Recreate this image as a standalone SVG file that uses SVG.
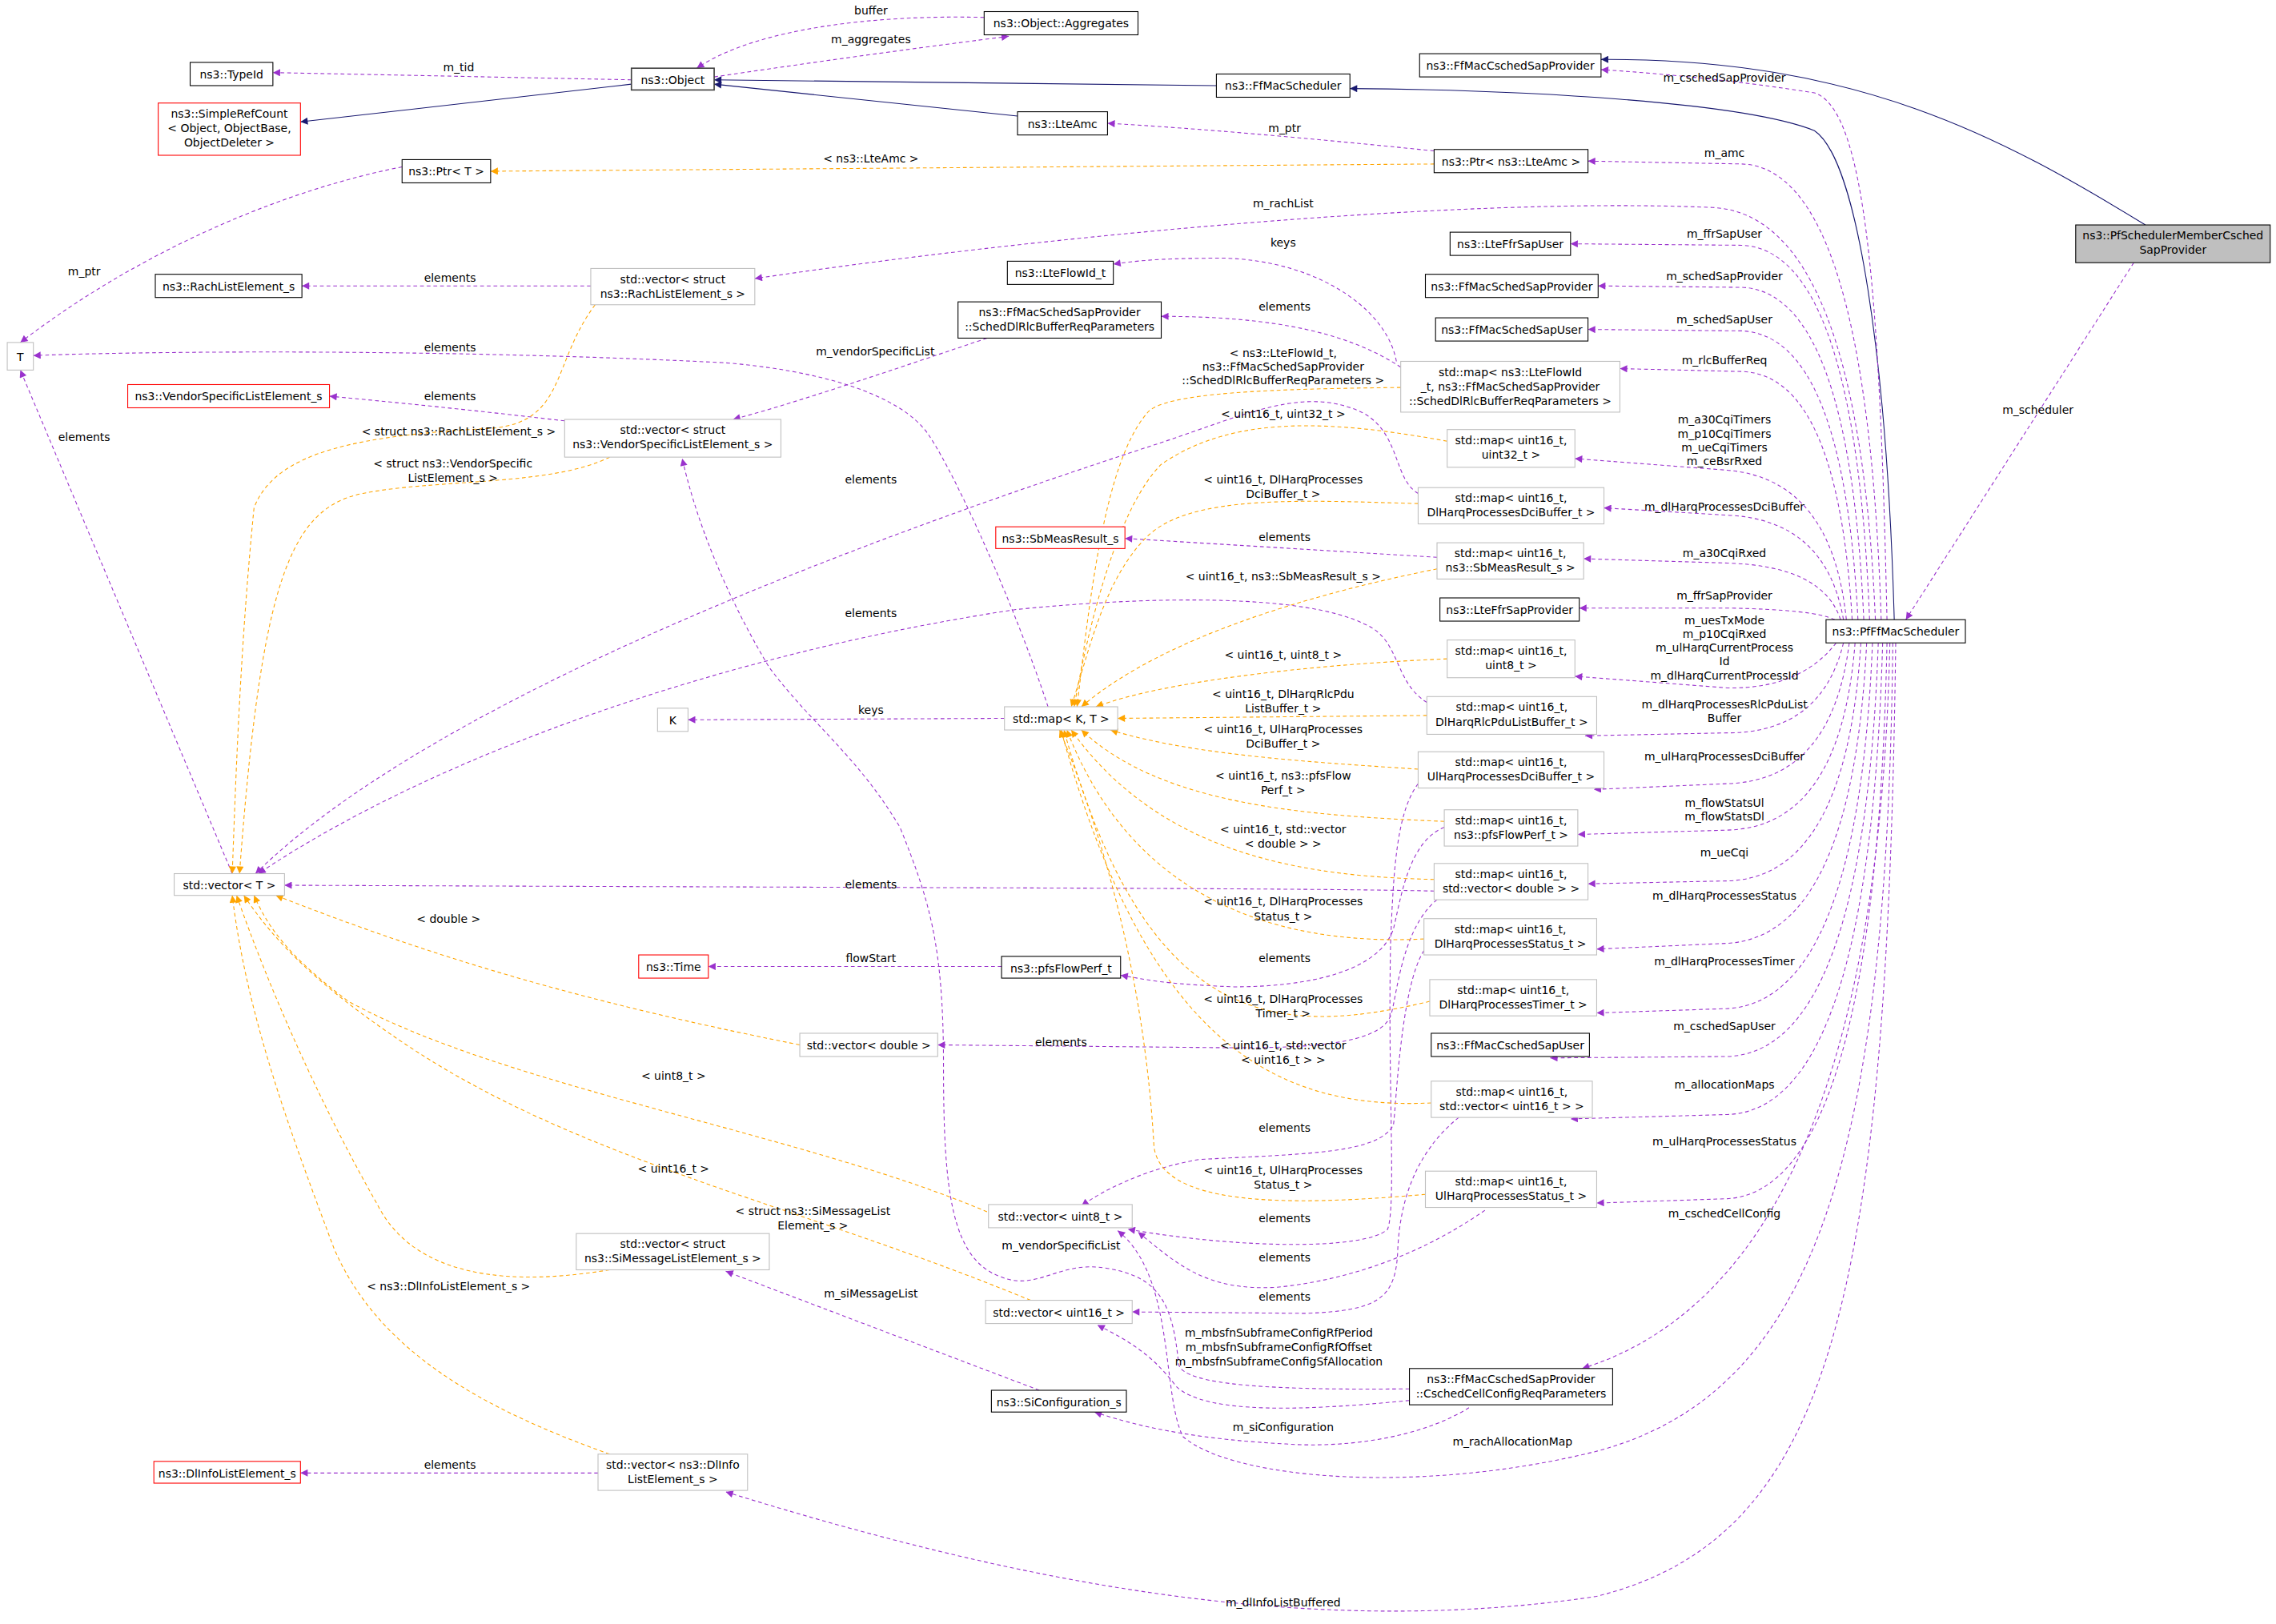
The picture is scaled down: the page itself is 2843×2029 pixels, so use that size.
<svg xmlns="http://www.w3.org/2000/svg" width="2843" height="2029" viewBox="0 0 2843 2029">
<defs>
<style>
text{font-family:"DejaVu Sans","Liberation Sans",sans-serif;font-size:7.7px;fill:#000;text-anchor:middle}
.nd rect{fill:#fff;stroke:#000;stroke-width:.6}
.nd.g rect{stroke:#bfbfbf}
.nd.r rect{stroke:#ff0000}
.nd.f rect{fill:#bfbfbf;stroke:#000}
#edges path{fill:none;stroke-width:.6}
#edges .p{stroke:#9a32cd;stroke-dasharray:2.6,2;marker-end:url(#ap)}
#edges .o{stroke:#ffa500;stroke-dasharray:2.6,2;marker-end:url(#ao)}
#edges .b{stroke:#191970;marker-end:url(#ab)}
</style>
<marker id="ap" viewBox="0 0 10 10" refX="10" refY="5" markerWidth="7" markerHeight="5" markerUnits="userSpaceOnUse" orient="auto"><path d="M0,0L10,5L0,10z" fill="#9a32cd"/></marker>
<marker id="ao" viewBox="0 0 10 10" refX="10" refY="5" markerWidth="7" markerHeight="5" markerUnits="userSpaceOnUse" orient="auto"><path d="M0,0L10,5L0,10z" fill="#ffa500"/></marker>
<marker id="ab" viewBox="0 0 10 10" refX="10" refY="5" markerWidth="7" markerHeight="5" markerUnits="userSpaceOnUse" orient="auto"><path d="M0,0L10,5L0,10z" fill="#191970"/></marker>
</defs>
<rect width="2843" height="2029" fill="#fff"/>
<g transform="scale(1.81314)">
<g id="edges">
<!-- inheritance -->
<path class="b" d="M435,58 L207,84"/>
<path class="b" d="M838,59 L492,55"/>
<path class="b" d="M701,80 L492,58"/>
<path class="b" d="M1305,427 C1300,250 1280,110 1250,90 C1200,70 1050,62 930,61"/>
<path class="b" d="M1478,155 C1380,95 1280,40 1103,41"/>
<!-- PfFfMacScheduler members -->
<path class="p" d="M1470,181 L1313,427"/>
<path class="p" d="M1300,427 C1295,200 1285,75 1250,64 C1200,56 1150,51 1103,48"/>
<path class="p" d="M1296,427 Q1286,116 1200,113 L1094,111"/>
<path class="p" d="M1292,427 Q1280,148 1180,143 C1000,135 700,165 520,192"/>
<path class="p" d="M1288,427 Q1278,172 1200,169 L1082,168"/>
<path class="p" d="M1284,427 Q1274,201 1200,198 L1101,197"/>
<path class="p" d="M1280,427 Q1270,231 1200,228 L1094,227"/>
<path class="p" d="M1276,427 Q1266,258 1200,256 L1116,254"/>
<path class="p" d="M1272,427 Q1262,330 1190,324 L1085,316"/>
<path class="p" d="M1270,427 Q1258,358 1190,355 L1105,350"/>
<path class="p" d="M1268,427 Q1256,390 1190,388 L1091,385"/>
<path class="p" d="M1264,427 Q1250,420 1190,419 L1088,419"/>
<path class="p" d="M1265,443 Q1240,475 1190,474 L1085,466"/>
<path class="p" d="M1270,443 Q1255,505 1190,505 L1092,507"/>
<path class="p" d="M1274,443 Q1262,538 1190,540 L1098,544"/>
<path class="p" d="M1278,443 Q1268,570 1190,572 L1087,575"/>
<path class="p" d="M1282,443 Q1272,605 1190,607 L1094,609"/>
<path class="p" d="M1286,443 Q1276,645 1190,650 L1100,654"/>
<path class="p" d="M1290,443 Q1280,690 1190,695 L1100,698"/>
<path class="p" d="M1294,443 Q1284,725 1190,728 L1068,729"/>
<path class="p" d="M1297,443 Q1288,765 1190,768 L1082,771"/>
<path class="p" d="M1300,443 Q1292,820 1190,826 L1100,829"/>
<path class="p" d="M1302,443 Q1292,880 1090,943"/>
<path class="p" d="M1304,443 C1300,800 1250,960 1100,1000 C980,1030 850,1020 815,990 C800,960 810,880 770,848"/>
<path class="p" d="M1306,443 C1300,900 1260,1060 1100,1100 C900,1130 700,1090 500,1028"/>
<!-- other members -->
<path class="p" d="M435,55 L188,50"/>
<path class="p" d="M678,12 C600,10 520,20 480,47"/>
<path class="p" d="M492,53 C580,40 640,32 695,25"/>
<path class="p" d="M988,104 C900,95 820,88 763,85"/>
<path class="p" d="M277,115 C200,130 100,170 14,236"/>
<path class="p" d="M407,197 L208,197"/>
<path class="p" d="M722,487 C700,420 660,330 640,300 C620,270 560,255 500,250 C300,240 100,242 23,245"/>
<path class="p" d="M160,602 L14,255"/>
<path class="p" d="M389,290 C320,282 280,278 227,273"/>
<path class="p" d="M680,233 C600,260 540,280 505,289"/>
<path class="p" d="M971,957 C880,958 815,955 812,940 C808,900 800,880 763,874 C730,868 715,890 690,880 C655,868 650,820 650,734 C650,650 640,620 620,570 C590,520 560,500 530,460 C500,410 480,360 470,316"/>
<path class="p" d="M965,253 C930,230 880,218 800,218"/>
<path class="p" d="M962,249 C955,210 900,175 830,178 C800,178 780,180 767,182"/>
<path class="p" d="M977,340 C960,330 965,300 940,285 C900,265 860,285 800,305 C600,370 300,480 176,602"/>
<path class="p" d="M990,384 L775,371"/>
<path class="p" d="M983,484 C960,470 965,440 940,430 C900,410 800,410 700,420 C500,450 300,520 178,602"/>
<path class="p" d="M692,495 L474,496"/>
<path class="p" d="M988,614 C900,612 700,612 196,610"/>
<path class="p" d="M995,570 C970,580 965,620 960,640 C950,670 900,680 850,680 C800,678 790,675 772,672"/>
<path class="p" d="M690,666 L488,666"/>
<path class="p" d="M990,620 C965,640 962,690 958,700 C950,720 900,722 850,722 L646,720"/>
<path class="p" d="M981,655 C965,680 962,760 960,775 C950,795 900,795 826,799 C790,805 760,820 745,831"/>
<path class="p" d="M977,540 C962,560 960,600 958,650 C956,750 962,830 956,847 C940,862 850,860 777,847"/>
<path class="p" d="M1023,834 C1000,850 950,880 880,887 C830,890 810,870 784,849"/>
<path class="p" d="M1005,770 C980,790 965,820 963,860 C962,895 950,903 900,905 L780,904"/>
<path class="p" d="M971,965 C900,972 830,975 810,955 C795,935 780,925 756,913"/>
<path class="p" d="M1012,970 C980,990 930,998 886,995 C830,992 790,985 754,973"/>
<path class="p" d="M716,958 L500,876"/>
<path class="p" d="M412,1015 L207,1015"/>
<!-- template instances -->
<path class="o" d="M988,113 L338,118"/>
<path class="o" d="M410,210 C380,250 390,290 340,295 C250,300 190,310 175,350 C165,450 162,550 160,602"/>
<path class="o" d="M420,315 C380,335 300,330 250,340 C200,350 180,400 165,602"/>
<path class="o" d="M551,720 C400,690 300,660 190,617"/>
<path class="o" d="M680,835 C550,780 350,750 240,690 C200,660 185,640 175,617"/>
<path class="o" d="M710,896 C550,830 400,800 280,720 C220,680 190,650 168,617"/>
<path class="o" d="M420,875 C330,890 280,870 260,830 C220,760 185,680 163,617"/>
<path class="o" d="M420,1002 C330,970 260,930 230,860 C200,780 170,700 160,617"/>
<path class="o" d="M965,267 C880,268 800,270 790,285 C760,320 750,420 742,487"/>
<path class="o" d="M997,304 C920,290 850,285 800,320 C770,350 750,430 740,487"/>
<path class="o" d="M977,347 C900,345 820,340 790,370 C760,400 750,450 738,487"/>
<path class="o" d="M990,392 C900,410 800,440 745,487"/>
<path class="o" d="M997,454 C900,458 800,470 755,487"/>
<path class="o" d="M983,493 L770,495"/>
<path class="o" d="M977,530 C900,525 820,520 765,503"/>
<path class="o" d="M995,566 C900,562 800,555 745,503"/>
<path class="o" d="M988,606 C900,604 800,590 738,503"/>
<path class="o" d="M981,647 C880,652 780,620 735,503"/>
<path class="o" d="M985,690 C880,715 790,710 733,503"/>
<path class="o" d="M986,760 C880,765 790,720 731,503"/>
<path class="o" d="M982,823 C880,832 800,830 795,790 C790,700 770,600 730,503"/>
</g>
<g id="edge-labels">
<text x="1188" y="56">m_cschedSapProvider</text>
<text x="1188" y="108">m_amc</text>
<text x="884" y="143">m_rachList</text>
<text x="1188" y="164">m_ffrSapUser</text>
<text x="1188" y="193">m_schedSapProvider</text>
<text x="1188" y="223">m_schedSapUser</text>
<text x="1188" y="251">m_rlcBufferReq</text>
<text x="1188" y="292"><tspan x="1188">m_a30CqiTimers</tspan><tspan x="1188" dy="9.5">m_p10CqiTimers</tspan><tspan x="1188" dy="9.5">m_ueCqiTimers</tspan><tspan x="1188" dy="9.5">m_ceBsrRxed</tspan></text>
<text x="1188" y="352">m_dlHarqProcessesDciBuffer</text>
<text x="1188" y="384">m_a30CqiRxed</text>
<text x="1188" y="413">m_ffrSapProvider</text>
<text x="1188" y="430"><tspan x="1188">m_uesTxMode</tspan><tspan x="1188" dy="9.5">m_p10CqiRxed</tspan><tspan x="1188" dy="9.5">m_ulHarqCurrentProcess</tspan><tspan x="1188" dy="9.5">Id</tspan><tspan x="1188" dy="9.5">m_dlHarqCurrentProcessId</tspan></text>
<text x="1188" y="488"><tspan x="1188">m_dlHarqProcessesRlcPduList</tspan><tspan x="1188" dy="9.5">Buffer</tspan></text>
<text x="1188" y="524">m_ulHarqProcessesDciBuffer</text>
<text x="1188" y="556"><tspan x="1188">m_flowStatsUl</tspan><tspan x="1188" dy="9.5">m_flowStatsDl</tspan></text>
<text x="1188" y="590">m_ueCqi</text>
<text x="1188" y="620">m_dlHarqProcessesStatus</text>
<text x="1188" y="665">m_dlHarqProcessesTimer</text>
<text x="1188" y="710">m_cschedSapUser</text>
<text x="1188" y="750">m_allocationMaps</text>
<text x="1188" y="789">m_ulHarqProcessesStatus</text>
<text x="1188" y="839">m_cschedCellConfig</text>
<text x="1042" y="996">m_rachAllocationMap</text>
<text x="884" y="1107">m_dlInfoListBuffered</text>
<text x="1404" y="285">m_scheduler</text>
<text x="316" y="49">m_tid</text>
<text x="600" y="10">buffer</text>
<text x="600" y="30">m_aggregates</text>
<text x="885" y="91">m_ptr</text>
<text x="58" y="190">m_ptr</text>
<text x="310" y="194">elements</text>
<text x="310" y="242">elements</text>
<text x="58" y="304">elements</text>
<text x="310" y="276">elements</text>
<text x="603" y="245">m_vendorSpecificList</text>
<text x="731" y="861">m_vendorSpecificList</text>
<text x="885" y="214">elements</text>
<text x="884" y="170">keys</text>
<text x="600" y="333">elements</text>
<text x="885" y="373">elements</text>
<text x="600" y="425">elements</text>
<text x="600" y="492">keys</text>
<text x="600" y="612">elements</text>
<text x="885" y="663">elements</text>
<text x="600" y="663">flowStart</text>
<text x="731" y="721">elements</text>
<text x="885" y="780">elements</text>
<text x="885" y="842">elements</text>
<text x="885" y="869">elements</text>
<text x="885" y="896">elements</text>
<text x="881" y="921"><tspan x="881">m_mbsfnSubframeConfigRfPeriod</tspan><tspan x="881" dy="10">m_mbsfnSubframeConfigRfOffset</tspan><tspan x="881" dy="10">m_mbsfnSubframeConfigSfAllocation</tspan></text>
<text x="884" y="986">m_siConfiguration</text>
<text x="600" y="894">m_siMessageList</text>
<text x="310" y="1012">elements</text>
<text x="600" y="112">&lt; ns3::LteAmc &gt;</text>
<text x="316" y="300">&lt; struct ns3::RachListElement_s &gt;</text>
<text x="312" y="322"><tspan x="312">&lt; struct ns3::VendorSpecific</tspan><tspan x="312" dy="10">ListElement_s &gt;</tspan></text>
<text x="309" y="636">&lt; double &gt;</text>
<text x="464" y="744">&lt; uint8_t &gt;</text>
<text x="464" y="808">&lt; uint16_t &gt;</text>
<text x="560" y="837"><tspan x="560">&lt; struct ns3::SiMessageList</tspan><tspan x="560" dy="10">Element_s &gt;</tspan></text>
<text x="309" y="889">&lt; ns3::DlInfoListElement_s &gt;</text>
<text x="884" y="246"><tspan x="884">&lt; ns3::LteFlowId_t,</tspan><tspan x="884" dy="9.5">ns3::FfMacSchedSapProvider</tspan><tspan x="884" dy="9.5">::SchedDlRlcBufferReqParameters &gt;</tspan></text>
<text x="884" y="288">&lt; uint16_t, uint32_t &gt;</text>
<text x="884" y="333"><tspan x="884">&lt; uint16_t, DlHarqProcesses</tspan><tspan x="884" dy="10">DciBuffer_t &gt;</tspan></text>
<text x="884" y="400">&lt; uint16_t, ns3::SbMeasResult_s &gt;</text>
<text x="884" y="454">&lt; uint16_t, uint8_t &gt;</text>
<text x="884" y="481"><tspan x="884">&lt; uint16_t, DlHarqRlcPdu</tspan><tspan x="884" dy="10">ListBuffer_t &gt;</tspan></text>
<text x="884" y="505"><tspan x="884">&lt; uint16_t, UlHarqProcesses</tspan><tspan x="884" dy="10">DciBuffer_t &gt;</tspan></text>
<text x="884" y="537"><tspan x="884">&lt; uint16_t, ns3::pfsFlow</tspan><tspan x="884" dy="10">Perf_t &gt;</tspan></text>
<text x="884" y="574"><tspan x="884">&lt; uint16_t, std::vector</tspan><tspan x="884" dy="10">&lt; double &gt; &gt;</tspan></text>
<text x="884" y="624"><tspan x="884">&lt; uint16_t, DlHarqProcesses</tspan><tspan x="884" dy="10">Status_t &gt;</tspan></text>
<text x="884" y="691"><tspan x="884">&lt; uint16_t, DlHarqProcesses</tspan><tspan x="884" dy="10">Timer_t &gt;</tspan></text>
<text x="884" y="723"><tspan x="884">&lt; uint16_t, std::vector</tspan><tspan x="884" dy="10">&lt; uint16_t &gt; &gt;</tspan></text>
<text x="884" y="809"><tspan x="884">&lt; uint16_t, UlHarqProcesses</tspan><tspan x="884" dy="10">Status_t &gt;</tspan></text>
</g>
<g id="TypeId" class="nd"><rect x="131" y="43" width="57" height="16"/><text x="159.5" y="54">ns3::TypeId</text></g>
<g id="SimpleRefCount" class="nd r"><rect x="109" y="71" width="98" height="36"/><text x="158" y="81"><tspan x="158">ns3::SimpleRefCount</tspan><tspan x="158" dy="10">&lt; Object, ObjectBase,</tspan><tspan x="158" dy="10">ObjectDeleter &gt;</tspan></text></g>
<g id="Object" class="nd"><rect x="435" y="47" width="57" height="15" style="stroke:#404040;stroke-width:.9"/><text x="463.5" y="58">ns3::Object</text></g>
<g id="Aggregates" class="nd"><rect x="678" y="8" width="106" height="16"/><text x="731" y="19">ns3::Object::Aggregates</text></g>
<g id="FfMacScheduler" class="nd"><rect x="838" y="51" width="92" height="16"/><text x="884" y="62">ns3::FfMacScheduler</text></g>
<g id="LteAmc" class="nd"><rect x="701" y="77" width="62" height="16"/><text x="732" y="88">ns3::LteAmc</text></g>
<g id="PtrT" class="nd"><rect x="277" y="110" width="61" height="16"/><text x="307.5" y="121">ns3::Ptr&lt; T &gt;</text></g>
<g id="PtrLteAmc" class="nd"><rect x="988" y="103" width="106" height="16"/><text x="1041" y="114">ns3::Ptr&lt; ns3::LteAmc &gt;</text></g>
<g id="FfMacCschedSapProvider" class="nd"><rect x="978" y="37" width="125" height="16"/><text x="1040.5" y="48">ns3::FfMacCschedSapProvider</text></g>
<g id="PfSchedulerMemberCschedSapProvider" class="nd f"><rect x="1430" y="155" width="134" height="26"/><text x="1497" y="165"><tspan x="1497">ns3::PfSchedulerMemberCsched</tspan><tspan x="1497" dy="10">SapProvider</tspan></text></g>
<g id="LteFfrSapUser" class="nd"><rect x="999" y="160" width="83" height="16"/><text x="1040.5" y="171">ns3::LteFfrSapUser</text></g>
<g id="LteFlowId_t" class="nd"><rect x="694" y="180" width="73" height="16"/><text x="730.5" y="191">ns3::LteFlowId_t</text></g>
<g id="vecRach" class="nd g"><rect x="407" y="185" width="113" height="25"/><text x="463.5" y="195"><tspan x="463.5">std::vector&lt; struct</tspan><tspan x="463.5" dy="10">ns3::RachListElement_s &gt;</tspan></text></g>
<g id="RachListElement_s" class="nd"><rect x="107" y="189" width="101" height="16"/><text x="157.5" y="200">ns3::RachListElement_s</text></g>
<g id="FfMacSchedSapProvider" class="nd"><rect x="982" y="189" width="119" height="16"/><text x="1041.5" y="200">ns3::FfMacSchedSapProvider</text></g>
<g id="FfMacSchedSapUser" class="nd"><rect x="989" y="219" width="105" height="16"/><text x="1041.5" y="230">ns3::FfMacSchedSapUser</text></g>
<g id="SchedDlRlcBufferReqParameters" class="nd"><rect x="660" y="208" width="140" height="25"/><text x="730" y="218"><tspan x="730">ns3::FfMacSchedSapProvider</tspan><tspan x="730" dy="10">::SchedDlRlcBufferReqParameters</tspan></text></g>
<g id="T" class="nd g"><rect x="5" y="236" width="18" height="19"/><text x="14" y="249">T</text></g>
<g id="VendorSpecificListElement_s" class="nd r"><rect x="88" y="265" width="139" height="16"/><text x="157.5" y="276">ns3::VendorSpecificListElement_s</text></g>
<g id="vecVendor" class="nd g"><rect x="389" y="289" width="149" height="26"/><text x="463.5" y="299"><tspan x="463.5">std::vector&lt; struct</tspan><tspan x="463.5" dy="10">ns3::VendorSpecificListElement_s &gt;</tspan></text></g>
<g id="mapLteFlow" class="nd g"><rect x="965" y="249" width="151" height="35"/><text x="1040.5" y="259"><tspan x="1040.5">std::map&lt; ns3::LteFlowId</tspan><tspan x="1040.5" dy="10">_t, ns3::FfMacSchedSapProvider</tspan><tspan x="1040.5" dy="10">::SchedDlRlcBufferReqParameters &gt;</tspan></text></g>
<g id="mapU32" class="nd g"><rect x="997" y="296" width="88" height="26"/><text x="1041" y="306"><tspan x="1041">std::map&lt; uint16_t,</tspan><tspan x="1041" dy="10">uint32_t &gt;</tspan></text></g>
<g id="mapDlDci" class="nd g"><rect x="977" y="336" width="128" height="25"/><text x="1041" y="346"><tspan x="1041">std::map&lt; uint16_t,</tspan><tspan x="1041" dy="10">DlHarqProcessesDciBuffer_t &gt;</tspan></text></g>
<g id="SbMeasResult_s" class="nd r"><rect x="686" y="363" width="89" height="15"/><text x="730.5" y="374">ns3::SbMeasResult_s</text></g>
<g id="mapSb" class="nd g"><rect x="990" y="374" width="101" height="25"/><text x="1040.5" y="384"><tspan x="1040.5">std::map&lt; uint16_t,</tspan><tspan x="1040.5" dy="10">ns3::SbMeasResult_s &gt;</tspan></text></g>
<g id="LteFfrSapProvider" class="nd"><rect x="992" y="412" width="96" height="16"/><text x="1040" y="423">ns3::LteFfrSapProvider</text></g>
<g id="PfFfMacScheduler" class="nd"><rect x="1258" y="427" width="96" height="16"/><text x="1306" y="438">ns3::PfFfMacScheduler</text></g>
<g id="mapU8" class="nd g"><rect x="997" y="441" width="88" height="26"/><text x="1041" y="451"><tspan x="1041">std::map&lt; uint16_t,</tspan><tspan x="1041" dy="10">uint8_t &gt;</tspan></text></g>
<g id="K" class="nd g"><rect x="453" y="488" width="21" height="16"/><text x="463.5" y="499">K</text></g>
<g id="mapKT" class="nd g"><rect x="692" y="487" width="78" height="16"/><text x="731" y="498">std::map&lt; K, T &gt;</text></g>
<g id="mapRlcPdu" class="nd g"><rect x="983" y="480" width="117" height="26"/><text x="1041.5" y="490"><tspan x="1041.5">std::map&lt; uint16_t,</tspan><tspan x="1041.5" dy="10">DlHarqRlcPduListBuffer_t &gt;</tspan></text></g>
<g id="mapUlDci" class="nd g"><rect x="977" y="518" width="128" height="25"/><text x="1041" y="528"><tspan x="1041">std::map&lt; uint16_t,</tspan><tspan x="1041" dy="10">UlHarqProcessesDciBuffer_t &gt;</tspan></text></g>
<g id="mapFlow" class="nd g"><rect x="995" y="558" width="92" height="25"/><text x="1041" y="568"><tspan x="1041">std::map&lt; uint16_t,</tspan><tspan x="1041" dy="10">ns3::pfsFlowPerf_t &gt;</tspan></text></g>
<g id="vecT" class="nd g"><rect x="120" y="602" width="76" height="15"/><text x="158" y="613">std::vector&lt; T &gt;</text></g>
<g id="mapVecD" class="nd g"><rect x="988" y="595" width="106" height="25"/><text x="1041" y="605"><tspan x="1041">std::map&lt; uint16_t,</tspan><tspan x="1041" dy="10">std::vector&lt; double &gt; &gt;</tspan></text></g>
<g id="mapDlStatus" class="nd g"><rect x="981" y="633" width="119" height="25"/><text x="1040.5" y="643"><tspan x="1040.5">std::map&lt; uint16_t,</tspan><tspan x="1040.5" dy="10">DlHarqProcessesStatus_t &gt;</tspan></text></g>
<g id="Time" class="nd r"><rect x="440" y="658" width="48" height="16"/><text x="464" y="669">ns3::Time</text></g>
<g id="pfsFlowPerf_t" class="nd"><rect x="690" y="659" width="82" height="15"/><text x="731" y="670">ns3::pfsFlowPerf_t</text></g>
<g id="mapDlTimer" class="nd g"><rect x="985" y="675" width="115" height="25"/><text x="1042.5" y="685"><tspan x="1042.5">std::map&lt; uint16_t,</tspan><tspan x="1042.5" dy="10">DlHarqProcessesTimer_t &gt;</tspan></text></g>
<g id="vecDouble" class="nd g"><rect x="551" y="712" width="95" height="16"/><text x="598.5" y="723">std::vector&lt; double &gt;</text></g>
<g id="FfMacCschedSapUser" class="nd"><rect x="986" y="712" width="109" height="16"/><text x="1040.5" y="723">ns3::FfMacCschedSapUser</text></g>
<g id="mapVecU16" class="nd g"><rect x="986" y="745" width="111" height="25"/><text x="1041.5" y="755"><tspan x="1041.5">std::map&lt; uint16_t,</tspan><tspan x="1041.5" dy="10">std::vector&lt; uint16_t &gt; &gt;</tspan></text></g>
<g id="mapUlStatus" class="nd g"><rect x="982" y="807" width="118" height="25"/><text x="1041" y="817"><tspan x="1041">std::map&lt; uint16_t,</tspan><tspan x="1041" dy="10">UlHarqProcessesStatus_t &gt;</tspan></text></g>
<g id="vecU8" class="nd g"><rect x="681" y="830" width="99" height="16"/><text x="730.5" y="841">std::vector&lt; uint8_t &gt;</text></g>
<g id="vecSi" class="nd g"><rect x="397" y="850" width="133" height="25"/><text x="463.5" y="860"><tspan x="463.5">std::vector&lt; struct</tspan><tspan x="463.5" dy="10">ns3::SiMessageListElement_s &gt;</tspan></text></g>
<g id="vecU16" class="nd g"><rect x="679" y="896" width="101" height="16"/><text x="729.5" y="907">std::vector&lt; uint16_t &gt;</text></g>
<g id="CschedCellConfigReqParameters" class="nd"><rect x="971" y="943" width="140" height="25"/><text x="1041" y="953"><tspan x="1041">ns3::FfMacCschedSapProvider</tspan><tspan x="1041" dy="10">::CschedCellConfigReqParameters</tspan></text></g>
<g id="SiConfiguration_s" class="nd"><rect x="683" y="958" width="93" height="15"/><text x="729.5" y="969">ns3::SiConfiguration_s</text></g>
<g id="DlInfoListElement_s" class="nd r"><rect x="106" y="1007" width="101" height="15"/><text x="156.5" y="1018">ns3::DlInfoListElement_s</text></g>
<g id="vecDlInfo" class="nd g"><rect x="412" y="1002" width="103" height="25"/><text x="463.5" y="1012"><tspan x="463.5">std::vector&lt; ns3::DlInfo</tspan><tspan x="463.5" dy="10">ListElement_s &gt;</tspan></text></g>
</g>
</svg>
